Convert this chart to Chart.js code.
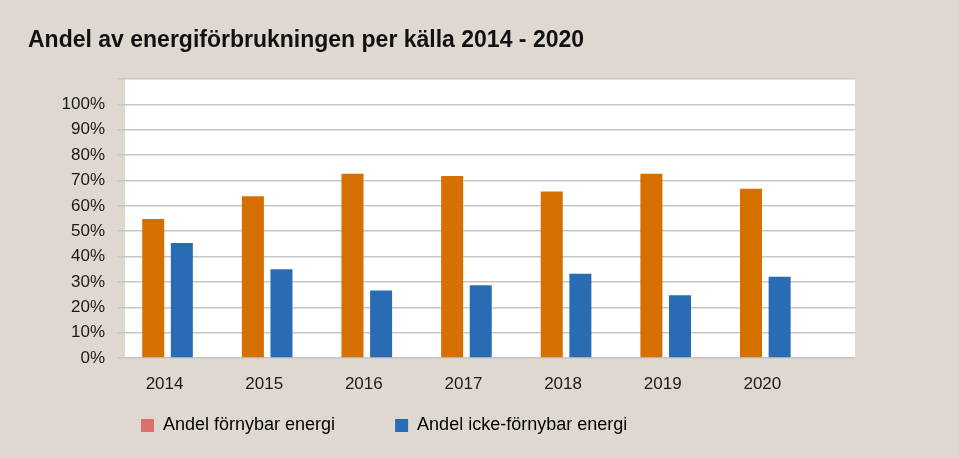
<!DOCTYPE html>
<html>
<head>
<meta charset="utf-8">
<script src="https://cdn.jsdelivr.net/npm/chart.js@4.4.1/dist/chart.umd.min.js"></script>
<style>
  html, body { margin: 0; padding: 0; background: #dfd8d1; }
  #wrap { width: 959px; height: 458px; }
</style>
</head>
<body>
<div id="wrap"><canvas id="c" width="959" height="458"></canvas></div>
<script>
const titleText = 'Andel av energiförbrukningen per källa 2014 - 2020';
const years = [2014, 2015, 2016, 2017, 2018, 2019, 2020];
const seriesNames = ['Andel förnybar energi', 'Andel icke-förnybar energi'];
const fornybar = [54.8, 63.8, 72.6, 71.8, 65.6, 72.6, 66.7];
const ickeFornybar = [45.3, 35.0, 26.6, 28.7, 33.2, 24.7, 32.0];
const yTicks = [0, 10, 20, 30, 40, 50, 60, 70, 80, 90, 100];

const BG = '#dfd8d1';
const ORANGE = '#d46f00';
const BLUE = '#2a6cb3';
const LEGEND_SALMON = '#d9706a';
const GRID = '#c6c6c6';
const FONT = "'Liberation Sans', Arial, sans-serif";

Chart.defaults.font.family = FONT;

const bgPlugin = {
  id: 'bg',
  beforeDraw(chart) {
    const { ctx, chartArea: a } = chart;
    ctx.save();
    ctx.fillStyle = BG;
    ctx.fillRect(0, 0, chart.width, chart.height);
    ctx.fillStyle = '#ffffff';
    ctx.fillRect(a.left, a.top, a.right - a.left, a.bottom - a.top);
    ctx.restore();
  }
};

const legendPlace = {
  id: 'legendPlace',
  afterLayout(chart) {
    const lg = chart.legend;
    if (lg) {
      const w = lg.right - lg.left;
      lg.left = 81;
      lg.right = 81 + w;
      lg.top = 356.5;
    }
  }
};

const toPts = (vals) => years.map((y, i) => ({ x: y, y: vals[i] }));

new Chart(document.getElementById('c'), {
  type: 'bar',
  data: {
    datasets: [
      { label: seriesNames[0], data: toPts(fornybar), backgroundColor: ORANGE, borderWidth: 0 },
      { label: seriesNames[1], data: toPts(ickeFornybar), backgroundColor: BLUE, borderWidth: 0 }
    ]
  },
  options: {
    responsive: false,
    animation: false,
    devicePixelRatio: 1,
    categoryPercentage: 0.574,
    barPercentage: 0.77,
    layout: { padding: { left: 28, right: 104, top: 0, bottom: 0 } },
    plugins: {
      title: {
        display: true,
        text: titleText,
        align: 'start',
        color: '#111111',
        font: { family: FONT, size: 23, weight: 'bold', lineHeight: 1.2 },
        padding: { top: 27, bottom: 24.4 }
      },
      legend: {
        display: true,
        position: 'bottom',
        align: 'start',
        maxHeight: 47.6,
        labels: {
          boxWidth: 13,
          boxHeight: 13,
          padding: 60,
          color: '#1a1a1a',
          font: { family: FONT, size: 18, lineHeight: 1.2 },
          generateLabels(chart) {
            const cols = [LEGEND_SALMON, BLUE];
            return chart.data.datasets.map((ds, i) => ({
              text: ds.label,
              fillStyle: cols[i],
              strokeStyle: cols[i],
              lineWidth: 0,
              hidden: false,
              datasetIndex: i
            }));
          }
        }
      },
      tooltip: { enabled: false }
    },
    scales: {
      x: {
        type: 'linear',
        min: 2013.573,
        max: 2020.9,
        offset: false,
        grid: { display: false, drawTicks: false },
        border: { display: false },
        afterBuildTicks(scale) {
          scale.ticks = years.map(v => ({ value: v }));
        },
        ticks: {
          autoSkip: false,
          maxRotation: 0,
          padding: 16,
          labelOffset: -3,
          color: '#1a1a1a',
          font: { family: FONT, size: 17, lineHeight: 1.2 },
          callback: (v) => String(v)
        }
      },
      y: {
        min: 0,
        max: 110,
        afterFit(scale) { scale.width = 97; },
        afterBuildTicks(scale) {
          scale.ticks = yTicks.concat([110]).map(v => ({ value: v }));
        },
        grid: { color: GRID, lineWidth: 1.5, tickLength: 8, drawTicks: true },
        border: { display: false },
        ticks: {
          padding: 12,
          color: '#1a1a1a',
          font: { family: FONT, size: 17, lineHeight: 1.2 },
          callback: (v) => (yTicks.includes(v) ? v + '%' : '')
        }
      }
    }
  },
  plugins: [bgPlugin, legendPlace]
});
</script>
</body>
</html>
